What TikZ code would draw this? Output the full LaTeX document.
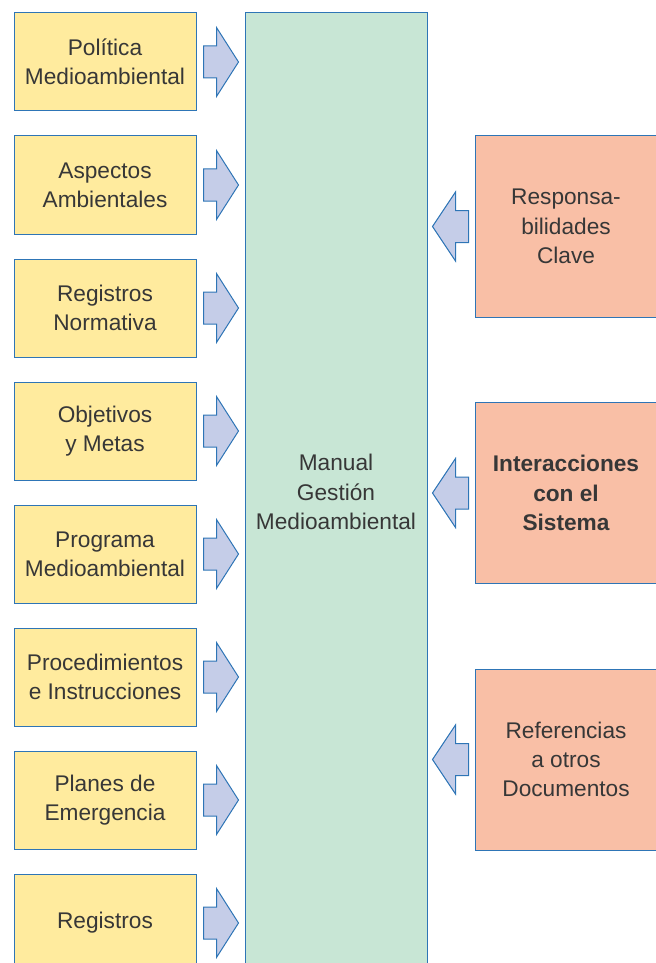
\documentclass[tikz,border=0pt]{standalone}
\usepackage{fontspec}
\setmainfont{Liberation Sans}
\usepackage{xcolor}
\usetikzlibrary{calc}

\definecolor{borde}{RGB}{46,117,182}
\definecolor{amarillo}{RGB}{255,235,158}
\definecolor{verde}{RGB}{200,230,213}
\definecolor{salmon}{RGB}{249,191,166}
\definecolor{flechaazul}{RGB}{197,205,232}
\definecolor{texto}{RGB}{55,55,55}

\tikzset{
  caja/.style={draw=borde, line width=0.75pt, align=center, text=texto,
    font=\fontsize{17}{22}\selectfont, inner sep=0pt},
  izq/.style={caja, fill=amarillo, minimum width=136.5pt, minimum height=73.5pt},
  der/.style={caja, fill=salmon, minimum width=136.5pt, minimum height=135.75pt},
  manual/.style={caja, fill=verde, minimum width=136.5pt, minimum height=718.5pt},
  flecha/.style={draw=borde, fill=flechaazul, line width=0.75pt, line join=miter}
}

\begin{document}
\begin{tikzpicture}[x=0.75pt,y=0.75pt,yscale=-1,xscale=1]
\useasboundingbox (0,0) rectangle (656,963);
\clip (0,0) rectangle (656,963);

% Manual central
\node[manual] (man) at (336,492) {Manual\\Gestión\\Medioambiental};

% Columna izquierda
\node[izq] (pol)  at (105,62)  {Política\\Medioambiental};
\node[izq] (asp)  at (105,185) {Aspectos\\Ambientales};
\node[izq] (norm) at (105,308) {Registros\\Normativa};
\node[izq] (obj)  at (105,431) {Objetivos\\y Metas};
\node[izq] (prog) at (105,554) {Programa\\Medioambiental};
\node[izq] (proc) at (105,677) {Procedimientos\\e Instrucciones};
\node[izq] (plan) at (105,800) {Planes de\\Emergencia};
\node[izq] (regs) at (105,923) {Registros};

% Columna derecha
\node[der] (resp) at (566,226.5) {Responsa-\\bilidades\\Clave};
\node[der, font=\fontsize{17}{22}\selectfont\bfseries] (inter) at (566,493) {Interacciones\\con el\\Sistema};
\node[der] (refs) at (566,759.5) {Referencias\\a otros\\Documentos};

% Flechas hacia el manual
\foreach \n in {pol,asp,norm,obj,prog,proc,plan,regs}{
  \coordinate (a) at ($(\n.east)+(7,0)$);
  \draw[flecha] (a) ++(0,-16) -- ++(13,0) -- ++(0,-18.5) -- ++(22,34.5)
    -- ++(-22,34.5) -- ++(0,-18.5) -- ++(-13,0) -- cycle;
}

% Flechas desde la derecha
\foreach \n in {resp,inter,refs}{
  \coordinate (b) at ($(\n.west)+(-6,0)$);
  \draw[flecha] (b) ++(0,-16) -- ++(-13,0) -- ++(0,-18.5) -- ++(-23,34.5)
    -- ++(23,34.5) -- ++(0,-18.5) -- ++(13,0) -- cycle;
}

\end{tikzpicture}
\end{document}
